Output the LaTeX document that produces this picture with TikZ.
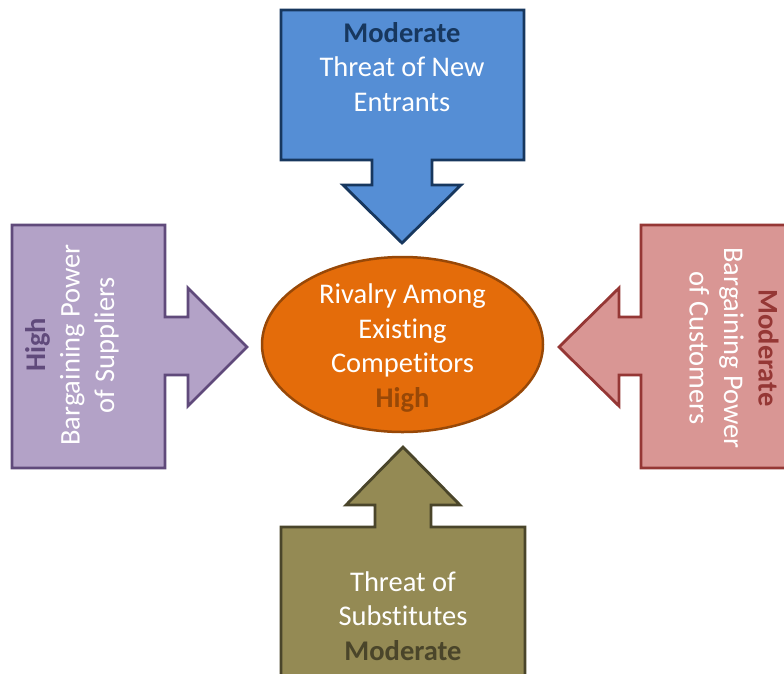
\documentclass[tikz,border=0pt]{standalone}
\usepackage{fontspec}
\setmainfont[Ligatures=NoCommon]{Carlito}
\usetikzlibrary{shapes.geometric}
\definecolor{blueF}{HTML}{558ED5}
\definecolor{blueD}{HTML}{17375E}
\definecolor{purpF}{HTML}{B3A2C7}
\definecolor{purpD}{HTML}{604A7B}
\definecolor{redF}{HTML}{D99694}
\definecolor{redD}{HTML}{953735}
\definecolor{oliveF}{HTML}{948A54}
\definecolor{oliveD}{HTML}{4A452A}
\definecolor{orangeF}{HTML}{E46C0A}
\definecolor{orangeD}{HTML}{984807}
\tikzset{
  force/.style={line width=2.8pt, line join=miter},
  label text/.style={text=white, align=center, inner sep=0pt,
    font=\fontsize{28.5}{34.5}\selectfont},
}
\begin{document}
\begin{tikzpicture}[x=1pt,y=-1pt]
\useasboundingbox (0,0) rectangle (784,673);
\clip (0,0) rectangle (784,673);
\fill[white] (0,0) rectangle (784,673);
% top: threat of new entrants
\draw[force, fill=blueF, draw=blueD]
  (281,10) -- (524,10) -- (524,160) -- (432,160) -- (432,185) -- (461,185)
  -- (402,243) -- (343,185) -- (372,185) -- (372,160) -- (281,160) -- cycle;
% left: suppliers
\draw[force, fill=purpF, draw=purpD]
  (12,225) -- (165,225) -- (165,317) -- (188,317) -- (188,288) -- (247,347)
  -- (188,406) -- (188,375) -- (165,375) -- (165,468) -- (12,468) -- cycle;
% right: customers
\draw[force, fill=redF, draw=redD]
  (641,225) -- (800,225) -- (800,468) -- (641,468) -- (641,375) -- (619,375)
  -- (619,406) -- (559,347) -- (619,288) -- (619,317) -- (641,317) -- cycle;
% bottom: substitutes
\draw[force, fill=oliveF, draw=oliveD]
  (281,527) -- (375,527) -- (375,505) -- (346,505) -- (403,447) -- (460,505)
  -- (431,505) -- (431,527) -- (525,527) -- (525,700) -- (281,700) -- cycle;
% center ellipse
\node[ellipse, draw=orangeD, fill=orangeF, line width=2.5pt, inner sep=0pt,
  minimum width=281pt, minimum height=175pt] (rival) at (402.5,344.5) {};
\node[label text] (rivaltxt) at (402.5,348)
  {Rivalry Among\\Existing\\Competitors\\\textcolor{orangeD}{\bfseries High}};
\node[label text] (entrants) at (402,67)
  {\textcolor{blueD}{\bfseries Moderate}\\Threat of New\\Entrants};
\node[label text, rotate=90] (suppliers) at (72,345)
  {\textcolor{purpD}{\bfseries High}\\Bargaining Power\\of Suppliers};
\node[label text, rotate=-90] (customers) at (734,348)
  {\textcolor{redD}{\bfseries Moderate}\\Bargaining Power\\of Customers};
\node[label text] (substitutes) at (403,616)
  {Threat of\\Substitutes\\\textcolor{oliveD}{\bfseries Moderate}};
\end{tikzpicture}
\end{document}
